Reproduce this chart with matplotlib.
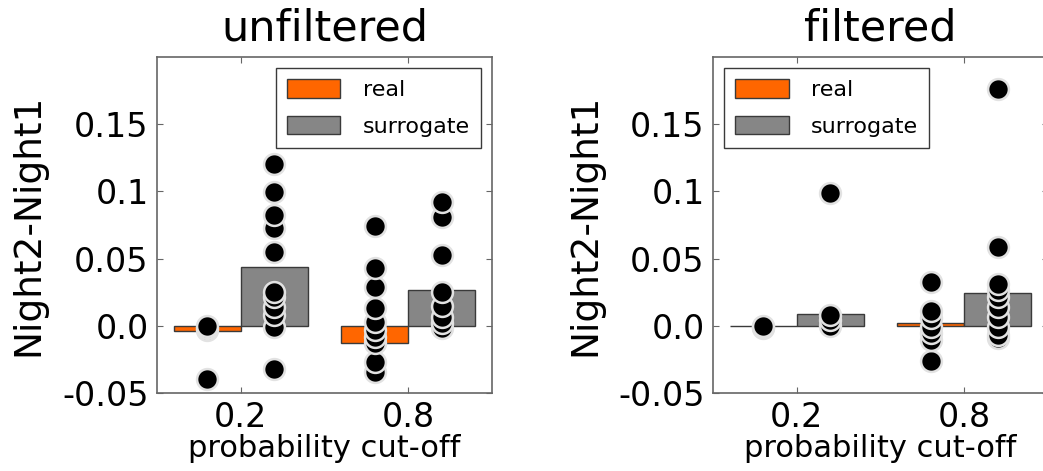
"""
Night2-Night1 difference per probability cut-off, real vs surrogate,
for unfiltered and filtered data.
"""

import matplotlib
matplotlib.use('Agg')
import matplotlib.pyplot as plt
import numpy as np

plt.rcParams['font.family'] = 'DejaVu Sans'

COLORS = {
    'real': '#FF6600',
    'surrogate': '#868686',
    'edge': '#3a3a3a',
    'spine': '#666666',
    'dot_edge': '#e2e2e2',
}

cutoffs = ['0.2', '0.8']
ytick_vals = [-0.05, 0.0, 0.05, 0.1, 0.15]
ytick_labels = ['-0.05', '0.0', '0.05', '0.1', '0.15']

# unfiltered
unf_real_bar = [-0.0037, -0.0127]
unf_surr_bar = [0.0436, 0.0266]
unf_real_pts = [
    [0.0, -0.002, -0.003, -0.0393],
    [0.0739, 0.0428, 0.0291, 0.013, 0.003, -0.0032, -0.0082, -0.0127, -0.0269, -0.0343],
]
unf_surr_pts = [
    [0.1204, 0.0995, 0.0824, 0.0727, 0.0552, 0.0249, 0.0212, 0.0142, 0.008, -0.0007, -0.0318],
    [0.0918, 0.0813, 0.0528, 0.0254, 0.0147, 0.0067, 0.0018, -0.002],
]

# filtered
fil_real_bar = [0.0, 0.0018]
fil_surr_bar = [0.0087, 0.0242]
fil_real_pts = [
    [0.0, -0.001, -0.002],
    [0.0328, 0.0112, 0.0055, -0.0007, -0.0057, -0.0107, -0.0263],
]
fil_surr_pts = [
    [0.0988, 0.008, 0.0042, 0.0],
    [0.1764, 0.0585, 0.0311, 0.0266, 0.0212, 0.0142, 0.0067, -0.0007, -0.007, -0.0094],
]


def draw_panel(ax, title, real_bar, surr_bar, real_pts, surr_pts, legend_loc):
    x = np.arange(len(cutoffs))
    w = 0.4
    ax.bar(x - w / 2, real_bar, w, color=COLORS['real'], edgecolor=COLORS['edge'],
           linewidth=1, label='real', zorder=2)
    ax.bar(x + w / 2, surr_bar, w, color=COLORS['surrogate'], edgecolor=COLORS['edge'],
           linewidth=1, label='surrogate', zorder=2)

    # individual subjects on top of each bar, higher points drawn last
    for i in range(len(cutoffs)):
        for xpos, pts in [(x[i] - w / 2, real_pts[i]), (x[i] + w / 2, surr_pts[i])]:
            pts = sorted(pts)
            ax.plot([xpos] * len(pts), pts, 'o', color='black', markersize=15,
                    markeredgecolor=COLORS['dot_edge'], markeredgewidth=1.8, zorder=3)

    ax.set_xlim(-0.5, 1.5)
    ax.set_ylim(-0.05, 0.2)
    ax.set_xticks(x)
    ax.set_xticklabels(cutoffs, fontsize=24)
    ax.set_yticks(ytick_vals)
    ax.set_yticklabels(ytick_labels, fontsize=24)
    ax.tick_params(direction='in', length=4, color=COLORS['spine'], top=True, right=True,
                   pad=6)
    for sp in ax.spines.values():
        sp.set_color(COLORS['spine'])
        sp.set_linewidth(1.2)

    ax.set_title(title, fontsize=31, pad=12)
    ax.set_xlabel('probability cut-off', fontsize=22, labelpad=0)
    ax.set_ylabel('Night2-Night1', fontsize=27, labelpad=11)

    leg = ax.legend(loc=legend_loc, fontsize=16, fancybox=False, framealpha=1,
                    handlelength=2.4, handleheight=0.9, borderpad=0.5,
                    labelspacing=0.7, handletextpad=1.0, borderaxespad=0.5)
    leg.get_frame().set_edgecolor(COLORS['edge'])
    leg.get_frame().set_linewidth(1)


fig = plt.figure(figsize=(10.43, 4.71), dpi=100)
ax1 = fig.add_axes([0.1505, 0.1656, 0.3212, 0.7134])
ax2 = fig.add_axes([0.6836, 0.1656, 0.3212, 0.7134])

draw_panel(ax1, 'unfiltered', unf_real_bar, unf_surr_bar, unf_real_pts, unf_surr_pts,
           'upper right')
draw_panel(ax2, 'filtered', fil_real_bar, fil_surr_bar, fil_real_pts, fil_surr_pts,
           'upper left')

fig.savefig('out.png', dpi=100, facecolor='white')
plt.close(fig)
